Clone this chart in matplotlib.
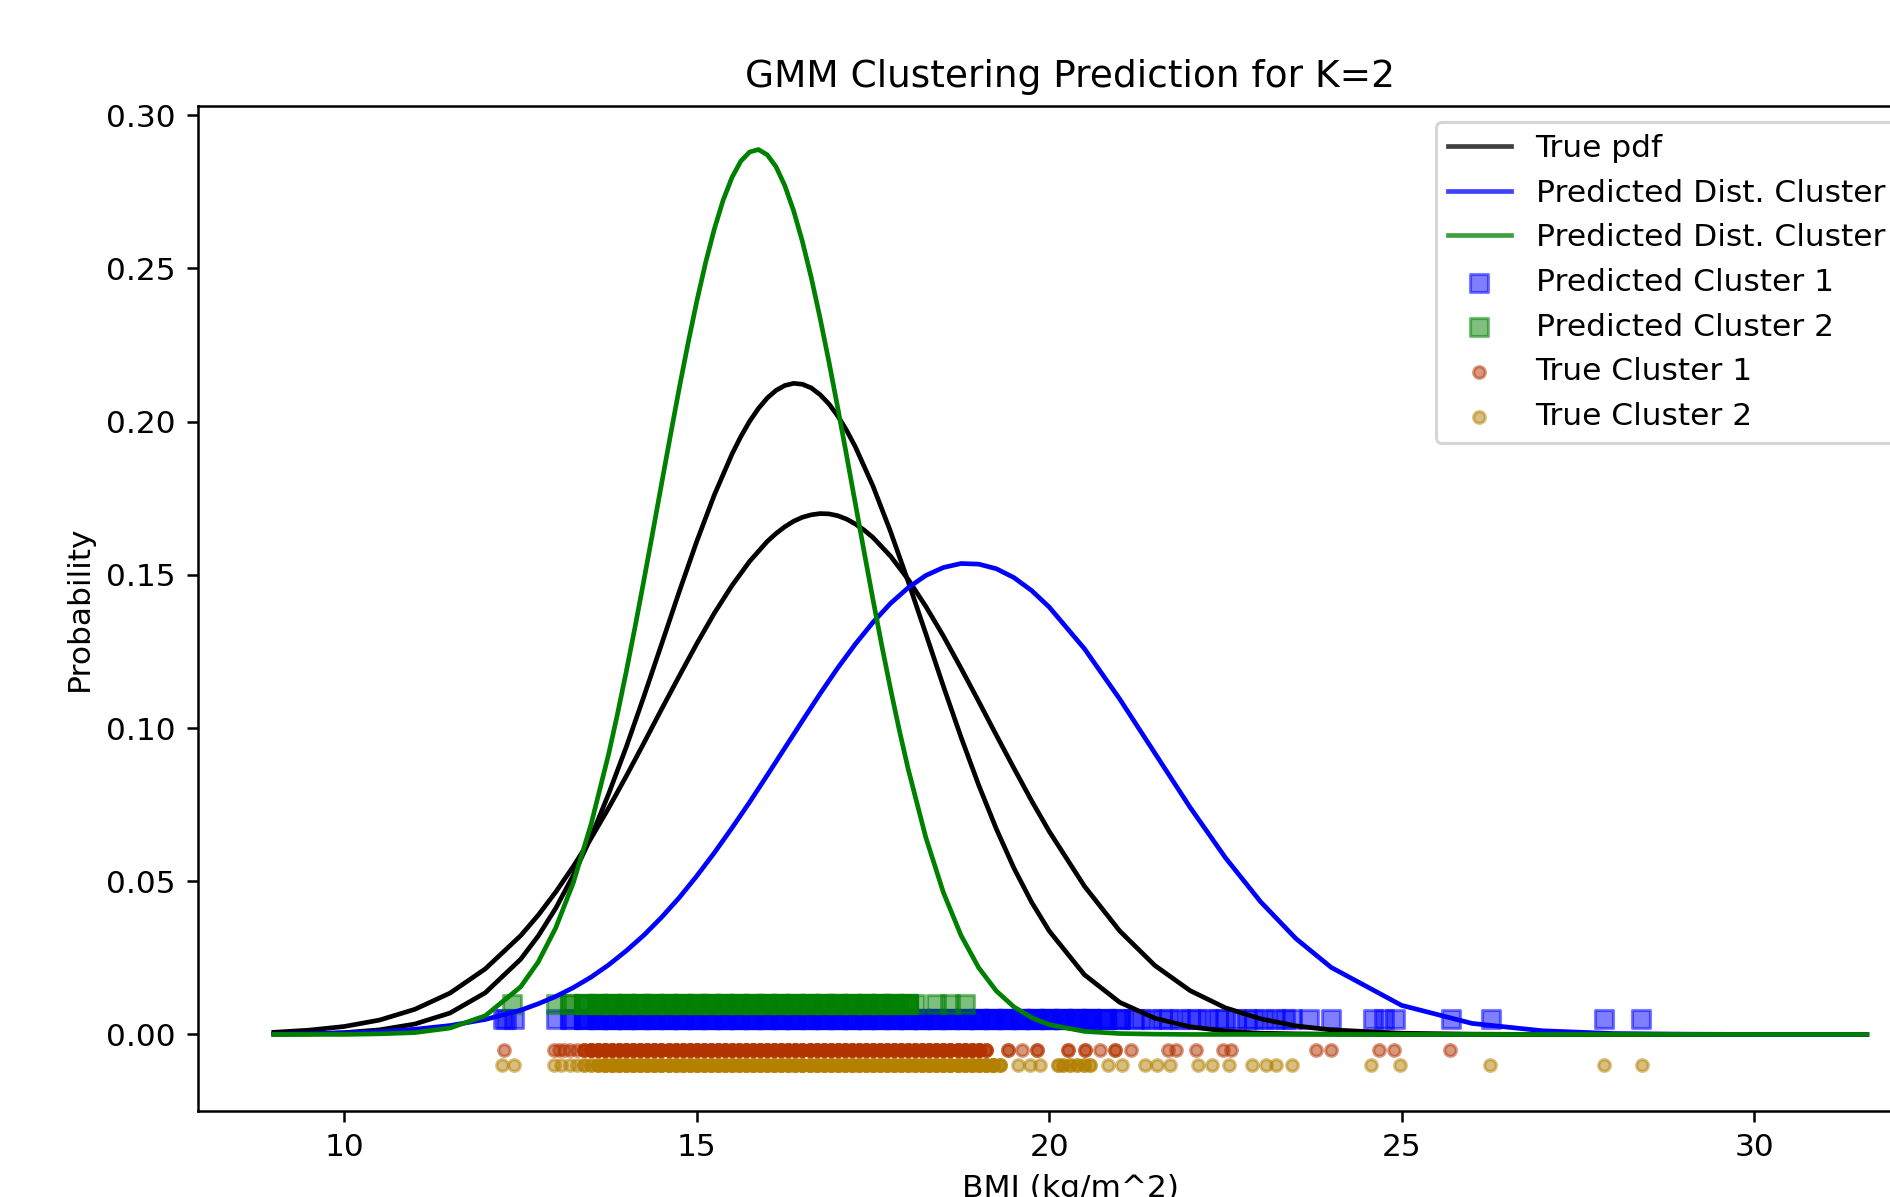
import matplotlib.pyplot as plt
import numpy as np

# curvas de densidad (BMI, probabilidad)
x_true_a = [9.0, 9.5, 10.0, 10.5, 11.0, 11.5, 12.0,
            12.5, 12.75, 13.0, 13.25, 13.5, 13.75, 14.0, 14.25, 14.5, 14.75,
            15.0, 15.25, 15.5, 15.625, 15.75, 15.875, 16.0, 16.125, 16.25, 16.375,
            16.5, 16.625, 16.75, 16.875, 17.0, 17.125, 17.25,
            17.5, 17.75, 18.0, 18.25, 18.5, 18.75, 19.0, 19.25, 19.5, 19.75, 20.0,
            20.5, 21.0, 21.5, 22.0, 22.5, 23.0, 23.5, 24.0,
            25.0, 26.0, 27.0, 28.0, 29.0, 30.0, 31.6]
true_pdf_a = [0.0001, 0.0002, 0.0006, 0.0015, 0.0034, 0.0070, 0.0136,
              0.0245, 0.0321, 0.0412, 0.0520, 0.0644, 0.0785, 0.0938, 0.1103, 0.1273, 0.1444,
              0.1609, 0.1761, 0.1894, 0.1951, 0.2001, 0.2043, 0.2077, 0.2102, 0.2118, 0.2125,
              0.2122, 0.2110, 0.2088, 0.2058, 0.2019, 0.1972, 0.1918,
              0.1790, 0.1641, 0.1478, 0.1308, 0.1136, 0.0970, 0.0814, 0.0671, 0.0543, 0.0432, 0.0338,
              0.0195, 0.0105, 0.0053, 0.0025, 0.0011, 0.0004, 0.0002, 0.0001,
              0.0, 0.0, 0.0, 0.0, 0.0, 0.0, 0.0]

x_true_b = [9.0, 9.5, 10.0, 10.5, 11.0, 11.5, 12.0,
            12.5, 12.75, 13.0, 13.25, 13.5, 13.75, 14.0, 14.25, 14.5, 14.75,
            15.0, 15.25, 15.5, 15.75, 16.0, 16.125, 16.25, 16.375, 16.5, 16.625,
            16.75, 16.875, 17.0, 17.125, 17.25, 17.375,
            17.5, 17.75, 18.0, 18.25, 18.5, 18.75, 19.0, 19.25, 19.5, 19.75, 20.0,
            20.5, 21.0, 21.5, 22.0, 22.5, 23.0, 23.5, 24.0,
            25.0, 26.0, 27.0, 28.0, 29.0, 30.0, 31.6]
true_pdf_b = [0.0007, 0.0014, 0.0026, 0.0047, 0.0082, 0.0135, 0.0214,
              0.0322, 0.0389, 0.0465, 0.0549, 0.0640, 0.0739, 0.0843, 0.0951, 0.1061, 0.1169,
              0.1275, 0.1375, 0.1465, 0.1544, 0.1609, 0.1635, 0.1657, 0.1675, 0.1688, 0.1696,
              0.1700, 0.1699, 0.1693, 0.1682, 0.1666, 0.1646,
              0.1622, 0.1561, 0.1485, 0.1397, 0.1300, 0.1195, 0.1087, 0.0977, 0.0869, 0.0763, 0.0663,
              0.0484, 0.0338, 0.0225, 0.0143, 0.0087, 0.0051, 0.0028, 0.0015,
              0.0004, 0.0001, 0.0, 0.0, 0.0, 0.0, 0.0]

x_pred_1 = [9.0, 9.5, 10.0, 10.5, 11.0, 11.5, 12.0,
            12.5, 12.75, 13.0, 13.25, 13.5, 13.75, 14.0, 14.25, 14.5, 14.75,
            15.0, 15.25, 15.5, 15.75, 16.0, 16.25, 16.5, 16.75, 17.0, 17.25,
            17.5, 17.75, 18.0, 18.25, 18.5, 18.75, 19.0, 19.25, 19.5, 19.75, 20.0,
            20.5, 21.0, 21.5, 22.0, 22.5, 23.0, 23.5, 24.0,
            25.0, 26.0, 27.0, 28.0, 29.0, 30.0, 31.6]
pred_pdf_1 = [0.0001, 0.0002, 0.0005, 0.0009, 0.0017, 0.0029, 0.0049,
              0.0079, 0.0100, 0.0124, 0.0153, 0.0187, 0.0227, 0.0273, 0.0324, 0.0382, 0.0446,
              0.0517, 0.0593, 0.0674, 0.0758, 0.0846, 0.0935, 0.1024, 0.1112, 0.1196, 0.1274,
              0.1345, 0.1407, 0.1458, 0.1498, 0.1524, 0.1537, 0.1535, 0.1520, 0.1491, 0.1449, 0.1395,
              0.1259, 0.1095, 0.0918, 0.0741, 0.0577, 0.0433, 0.0313, 0.0219,
              0.0095, 0.0036, 0.0012, 0.0003, 0.0001, 0.0, 0.0]

x_pred_2 = [9.0, 9.5, 10.0, 10.5, 11.0, 11.5, 12.0,
            12.5, 12.75, 13.0, 13.25, 13.5, 13.75, 13.875, 14.0, 14.125, 14.25, 14.375,
            14.5, 14.625, 14.75, 14.875, 15.0, 15.125, 15.25, 15.375, 15.5, 15.625,
            15.75, 15.875, 16.0, 16.125, 16.25, 16.375, 16.5, 16.625, 16.75, 16.875,
            17.0, 17.125, 17.25, 17.375, 17.5, 17.625, 17.75, 17.875, 18.0,
            18.25, 18.5, 18.75, 19.0, 19.25, 19.5, 19.75, 20.0,
            20.5, 21.0, 21.5, 22.0, 22.5, 23.0, 23.5, 24.0,
            25.0, 26.0, 27.0, 28.0, 29.0, 30.0, 31.6]
pred_pdf_2 = [0.0, 0.0, 0.0, 0.0002, 0.0006, 0.0021, 0.0061,
              0.0155, 0.0236, 0.0348, 0.0496, 0.0685, 0.0915, 0.1045, 0.1184, 0.1330, 0.1482, 0.1638,
              0.1796, 0.1953, 0.2107, 0.2254, 0.2392, 0.2518, 0.2629, 0.2723, 0.2797, 0.2850,
              0.2880, 0.2888, 0.2871, 0.2832, 0.2770, 0.2688, 0.2587, 0.2470, 0.2338, 0.2196,
              0.2046, 0.1891, 0.1733, 0.1575, 0.1420, 0.1270, 0.1127, 0.0992, 0.0866,
              0.0643, 0.0463, 0.0323, 0.0218, 0.0142, 0.0090, 0.0055, 0.0032,
              0.0010, 0.0003, 0.0001, 0.0, 0.0, 0.0, 0.0, 0.0,
              0.0, 0.0, 0.0, 0.0, 0.0, 0.0, 0.0]

# puntos de BMI (valor y cuantas veces aparece)
pc1_x = [12.25, 12.30, 12.41,
         13.0, 13.2, 13.4, 13.6, 13.8, 14.0, 14.2, 14.4, 14.6, 14.8, 15.0, 15.2, 15.4,
         15.6, 15.8, 16.0, 16.2, 16.4, 16.6, 16.8, 17.0, 17.2, 17.4, 17.6, 17.8, 18.0,
         18.2, 18.4, 18.6, 18.8, 19.0, 19.2, 19.4, 19.6, 19.8, 20.0, 20.2, 20.4, 20.6,
         20.8, 21.0,
         21.2, 21.3, 21.45, 21.6, 21.7, 21.85, 22.0, 22.1, 22.25, 22.4, 22.5, 22.65,
         22.8, 22.9, 23.05, 23.2, 23.35, 23.45,
         23.69, 24.0, 24.59, 24.75, 24.91, 25.70, 26.27, 27.87, 28.40]
pc1_n = [1, 1, 1,
         1, 2, 4, 6, 6, 6, 6, 6, 6, 6, 6, 6, 6,
         6, 6, 6, 6, 6, 6, 6, 6, 6, 6, 6, 6, 6,
         6, 6, 6, 6, 6, 6, 6, 6, 6, 6, 6, 6, 6,
         4, 3,
         1, 1, 1, 1, 1, 1, 1, 1, 1, 1, 1, 1,
         1, 1, 1, 1, 1, 1,
         1, 1, 1, 1, 1, 1, 1, 1, 1]

pc2_x = [12.38,
         13.0, 13.2, 13.4, 13.6, 13.8, 14.0, 14.2, 14.4, 14.6, 14.8, 15.0, 15.2, 15.4,
         15.6, 15.8, 16.0, 16.2, 16.4, 16.6, 16.8, 17.0, 17.2, 17.4, 17.6, 17.8, 18.0,
         18.1, 18.40, 18.60, 18.80]
pc2_n = [1,
         1, 2, 4, 6, 6, 6, 6, 6, 6, 6, 6, 6, 6,
         6, 6, 6, 6, 6, 6, 6, 6, 6, 6, 6, 6, 4,
         1, 1, 1, 1]

tc1_x = [12.27, 12.97, 13.05, 13.12, 13.2, 13.3,
         13.4, 13.5, 13.6, 13.7, 13.8, 13.9, 14.0, 14.1, 14.2, 14.3, 14.4, 14.5,
         14.6, 14.7, 14.8, 14.9, 15.0, 15.1, 15.2, 15.3, 15.4, 15.5, 15.6, 15.7,
         15.8, 15.9, 16.0, 16.1, 16.2, 16.3, 16.4, 16.5, 16.6, 16.7, 16.8, 16.9,
         17.0, 17.1, 17.2, 17.3, 17.4, 17.5, 17.6, 17.7, 17.8, 17.9, 18.0, 18.1,
         18.2, 18.3, 18.4, 18.5, 18.6, 18.7, 18.8, 18.9, 19.0, 19.1,
         19.42, 19.61, 19.83, 20.27, 20.51, 20.72, 20.93, 21.16, 21.69, 21.80,
         22.09, 22.47, 22.58, 23.78, 24.0, 24.68, 24.89, 25.69]
tc1_n = [1, 1, 1, 1, 1, 1,
         3, 5, 5, 5, 5, 5, 5, 5, 5, 5, 5, 5,
         5, 5, 5, 5, 5, 5, 5, 5, 5, 5, 5, 5,
         5, 5, 5, 5, 5, 5, 5, 5, 5, 5, 5, 5,
         5, 5, 5, 5, 5, 5, 5, 5, 5, 5, 5, 5,
         5, 5, 5, 5, 5, 5, 5, 5, 5, 3,
         2, 1, 2, 2, 2, 1, 2, 1, 1, 1,
         1, 1, 1, 1, 1, 1, 1, 1]

tc2_x = [12.24, 12.41, 12.97, 13.08, 13.2, 13.3, 13.4, 13.5,
         13.6, 13.7, 13.8, 13.9, 14.0, 14.1, 14.2, 14.3, 14.4, 14.5, 14.6, 14.7,
         14.8, 14.9, 15.0, 15.1, 15.2, 15.3, 15.4, 15.5, 15.6, 15.7, 15.8, 15.9,
         16.0, 16.1, 16.2, 16.3, 16.4, 16.5, 16.6, 16.7, 16.8, 16.9, 17.0, 17.1,
         17.2, 17.3, 17.4, 17.5, 17.6, 17.7, 17.8, 17.9, 18.0, 18.1, 18.2, 18.3,
         18.4, 18.5, 18.6, 18.7, 18.8, 18.9, 19.0, 19.1, 19.2, 19.3,
         19.56, 19.73, 19.87, 20.12, 20.2, 20.3, 20.4, 20.5, 20.58, 20.83, 21.03,
         21.36, 21.53, 21.71, 22.11, 22.31, 22.55, 22.88, 23.08, 23.22, 23.44,
         24.57, 24.98, 26.26, 27.87, 28.41]
tc2_n = [1, 1, 1, 1, 1, 1, 2, 2,
         3, 5, 5, 5, 5, 5, 5, 5, 5, 5, 5, 5,
         5, 5, 5, 5, 5, 5, 5, 5, 5, 5, 5, 5,
         5, 5, 5, 5, 5, 5, 5, 5, 5, 5, 5, 5,
         5, 5, 5, 5, 5, 5, 5, 5, 5, 5, 5, 5,
         5, 5, 5, 5, 5, 5, 5, 5, 5, 3,
         1, 1, 1, 2, 2, 2, 2, 2, 2, 1, 1,
         1, 1, 1, 1, 1, 1, 1, 1, 1, 1,
         1, 1, 1, 1, 1]

# altura fija de cada fila de puntos
y_pc1, y_pc2, y_tc1, y_tc2 = 0.005, 0.01, -0.005, -0.01

fig = plt.figure(figsize=(8.4, 5.32), dpi=225)
ax = fig.add_axes([0.1046, 0.0718, 0.9234, 0.8396])

ax.plot(x_true_a, true_pdf_a, color='black', label='True pdf')
ax.plot(x_true_b, true_pdf_b, color='black')
ax.plot(x_pred_1, pred_pdf_1, color='blue', label='Predicted Dist. Cluster 1')
ax.plot(x_pred_2, pred_pdf_2, color='green', label='Predicted Dist. Cluster 2')

p1 = np.repeat(pc1_x, pc1_n)
p2 = np.repeat(pc2_x, pc2_n)
t1 = np.repeat(tc1_x, tc1_n)
t2 = np.repeat(tc2_x, tc2_n)
ax.scatter(p1, np.full(len(p1), y_pc1), s=35, marker='s', color='blue', alpha=0.5,
           linewidths=1.0, edgecolors='face', label='Predicted Cluster 1')
ax.scatter(p2, np.full(len(p2), y_pc2), s=35, marker='s', color='green', alpha=0.5,
           linewidths=1.0, edgecolors='face', label='Predicted Cluster 2')
ax.scatter(t1, np.full(len(t1), y_tc1), s=14, color=(0.7, 0.2, 0.0), alpha=0.5,
           linewidths=1.0, edgecolors='face', label='True Cluster 1')
ax.scatter(t2, np.full(len(t2), y_tc2), s=14, color=(0.7, 0.5, 0.0), alpha=0.5,
           linewidths=1.0, edgecolors='face', label='True Cluster 2')

ax.set_xlim(7.92, 32.68)
ax.set_ylim(-0.025, 0.303)
ax.set_title('GMM Clustering Prediction for K=2')
ax.set_xlabel('BMI (kg/m^2)')
ax.set_ylabel('Probability')

leg = ax.legend(loc='upper right')
for ln in leg.get_lines():
    ln.set_alpha(0.75)

fig.savefig('out.png', dpi=225)
